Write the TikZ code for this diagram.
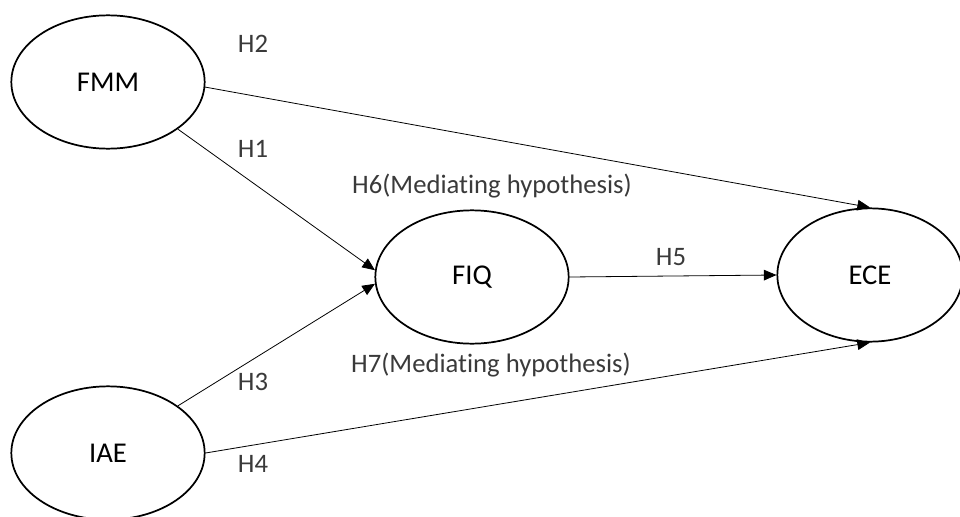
\documentclass[tikz,border=0pt]{standalone}
\usepackage{fontspec}
\setmainfont{Carlito}[Ligatures={NoCommon}]
\usetikzlibrary{arrows.meta, shapes.geometric}
\definecolor{hlabel}{HTML}{3A3A3A}
\tikzset{
  cvar/.style={draw=black, ellipse, line width=1.3pt, minimum width=145pt,
               minimum height=100pt, inner sep=0pt, font=\fontsize{21.5}{25}\selectfont},
  hyp/.style={text=hlabel, inner sep=0pt, font=\fontsize{20}{24}\selectfont},
  arr/.style={-{Triangle[length=9.5pt, width=8pt]}, line width=0.6pt, black},
}
\begin{document}
\begin{tikzpicture}[x=0.75pt, y=-0.75pt]
    \clip (0,0) rectangle (960,517);
    \useasboundingbox (0,0) rectangle (960,517);

    \node[cvar] (fmm) at (108, 82) {FMM};
    \node[cvar] (iae) at (108, 453) {IAE};
    \node[cvar] (fiq) at (472, 277) {FIQ};
    \node[cvar, minimum width=139pt] (ece) at (870, 275) {ECE};

    \draw[arr] (fmm.-3) -- (ece.north);
    \draw[arr] (fmm.-34) -- (fiq.176);
    \draw[arr] (iae.34) -- (fiq.184);
    \draw[arr] (iae.east) -- (ece.south);
    \draw[arr] (fiq.east) -- (ece.west);

    \node[hyp] (h2) at (253, 44) {H2};
    \node[hyp] (h1) at (253, 149) {H1};
    \node[hyp] (h3) at (253, 382) {H3};
    \node[hyp] (h4) at (253, 464) {H4};
    \node[hyp] (h5) at (671, 257) {H5};
    \node[hyp] (h6) at (492, 186) {H6(Mediating hypothesis)};
    \node[hyp] (h7) at (491, 365) {H7(Mediating hypothesis)};
  \end{tikzpicture}
\end{document}
